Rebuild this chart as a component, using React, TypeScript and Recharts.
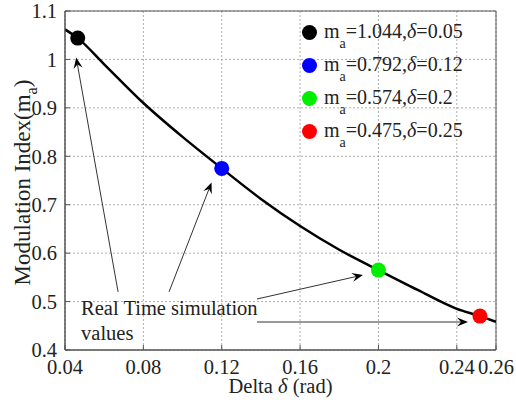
import {
  CartesianGrid,
  ComposedChart,
  Legend,
  Line,
  ReferenceArea,
  ReferenceDot,
  ReferenceLine,
  Scatter,
  XAxis,
  YAxis,
} from "recharts";

const FONT = "'Liberation Serif', 'Times New Roman', serif";

// fitted curve
const curveDelta = [0.04, 0.0465, 0.06, 0.08, 0.1, 0.12, 0.14, 0.16, 0.18, 0.2, 0.22, 0.24, 0.2518, 0.26];
const curveMa = [1.062, 1.044, 0.99, 0.91, 0.84, 0.775, 0.712, 0.656, 0.607, 0.565, 0.524, 0.485, 0.47, 0.458];

// real time simulation points
const pointDelta = [0.0465, 0.12, 0.2, 0.2518];
const pointMa = [1.044, 0.775, 0.565, 0.47];
const pointColors = ["#000000", "#0000ff", "#00ee00", "#ff0000"];

// legend texts
const legendMa = ["1.044", "0.792", "0.574", "0.475"];
const legendDelta = ["0.05", "0.12", "0.2", "0.25"];

const xTicks = [0.04, 0.08, 0.12, 0.16, 0.2, 0.24, 0.26];
const yTicks = [0.4, 0.5, 0.6, 0.7, 0.8, 0.9, 1, 1.1];

// annotation arrows (delta, ma)
const arrowFrom = [
  [0.0671, 0.52],
  [0.0931, 0.52],
  [0.138, 0.5053],
  [0.138, 0.4578],
];
const arrowTo = [
  [0.0457, 1.004],
  [0.1148, 0.746],
  [0.1921, 0.5549],
  [0.2457, 0.4578],
];

const curveData = curveDelta.map((d, i) => ({ delta: d, ma: curveMa[i] }));
const pointData = pointDelta.map((d, i) => ({ delta: d, ma: pointMa[i] }));

function ArrowShape(props: any) {
  const { x1, y1, x2, y2 } = props;
  if ([x1, y1, x2, y2].some((v) => v == null || isNaN(v))) return null;
  const dx = x2 - x1;
  const dy = y2 - y1;
  const len = Math.sqrt(dx * dx + dy * dy) || 1;
  const ux = dx / len;
  const uy = dy / len;
  const px = -uy;
  const py = ux;
  const head = 11;
  const half = 4.5;
  const notch = 7;
  const pts = [
    [x2, y2],
    [x2 - ux * head + px * half, y2 - uy * head + py * half],
    [x2 - ux * notch, y2 - uy * notch],
    [x2 - ux * head - px * half, y2 - uy * head - py * half],
  ]
    .map((p) => p.join(","))
    .join(" ");
  return (
    <g>
      <line x1={x1} y1={y1} x2={x2 - ux * notch} y2={y2 - uy * notch} stroke="#333" strokeWidth={1} />
      <polygon points={pts} fill="#000" />
    </g>
  );
}

function XTick(props: any) {
  const { x, y, payload } = props;
  return (
    <text x={x} y={y} dy="0.71em" textAnchor="middle" fontFamily={FONT} fontSize={20.5} fill="#222">
      {payload.value}
    </text>
  );
}

function YTick(props: any) {
  const { x, y, payload } = props;
  return (
    <text x={x} y={y} dy="0.355em" textAnchor="end" fontFamily={FONT} fontSize={20.5} fill="#222">
      {payload.value}
    </text>
  );
}

function YLabel(props: any) {
  const { viewBox } = props;
  const cx = 22;
  const cy = viewBox.y + viewBox.height / 2 + 2;
  return (
    <text
      x={cx}
      y={cy}
      transform={`rotate(-90 ${cx} ${cy})`}
      textAnchor="middle"
      dominantBaseline="central"
      fontFamily={FONT}
      fontSize={23}
      fill="#222"
    >
      Modulation Index(m
      <tspan fontSize={16} dy={9}>a</tspan>
      <tspan dy={-9}>)</tspan>
    </text>
  );
}

function XLabel(props: any) {
  const { viewBox } = props;
  const cx = viewBox.x + viewBox.width / 2;
  return (
    <text x={cx} y={393} textAnchor="middle" fontFamily={FONT} fontSize={20.5} fill="#222">
      Delta <tspan fontStyle="italic">δ</tspan> (rad)
    </text>
  );
}

function LegendBox() {
  return (
    <div style={{ fontFamily: FONT, fontSize: 20, color: "#222", lineHeight: "30px" }}>
      {legendMa.map((m, i) => (
        <div key={i} style={{ display: "flex", alignItems: "center", whiteSpace: "nowrap" }}>
          <span
            style={{
              display: "inline-block",
              width: 15,
              height: 15,
              borderRadius: "50%",
              background: pointColors[i],
              marginRight: 7,
            }}
          />
          <span>
            m<span style={{ fontSize: 14, position: "relative", top: 10 }}>a</span>={m},
            <i>δ</i>={legendDelta[i]}
          </span>
        </div>
      ))}
    </div>
  );
}

function AnnotationText(props: any) {
  const { cx, cy } = props;
  if (cx == null || cy == null) return null;
  return (
    <text x={cx} y={cy} fontFamily={FONT} fontSize={20.5} fill="#222">
      <tspan x={cx}>Real Time simulation</tspan>
      <tspan x={cx} dy={25}>values</tspan>
    </text>
  );
}

export default function App() {
  return (
    <div
      style={{
        position: "absolute",
        left: 0,
        top: 0,
        width: 516,
        height: 405,
        background: "#fff",
        fontFamily: FONT,
      }}
    >
      <ComposedChart width={516} height={405} margin={{ top: 11, right: 20, left: 10, bottom: 15 }}>
        <CartesianGrid stroke="#9a9a9a" strokeDasharray="2 2" strokeWidth={0.8} />
        <XAxis
          dataKey="delta"
          type="number"
          domain={[0.04, 0.26]}
          ticks={xTicks}
          interval={0}
          allowDataOverflow
          height={40}
          axisLine={{ stroke: "#555" }}
          tickLine={{ stroke: "#555" }}
          tickSize={-5}
          tickMargin={14}
          tick={<XTick />}
          label={<XLabel />}
        />
        <YAxis
          dataKey="ma"
          type="number"
          domain={[0.4, 1.1]}
          ticks={yTicks}
          interval={0}
          allowDataOverflow
          width={55}
          axisLine={{ stroke: "#555" }}
          tickLine={{ stroke: "#555" }}
          tickSize={-5}
          tickMargin={13}
          tick={<YTick />}
          label={<YLabel />}
        />
        <ReferenceArea x1={0.04} x2={0.26} y1={0.4} y2={1.1} fill="none" stroke="#555" strokeWidth={1} />
        <Line
          data={curveData}
          dataKey="ma"
          type="monotone"
          stroke="#000"
          strokeWidth={2.5}
          dot={false}
          activeDot={false}
          legendType="none"
          isAnimationActive={false}
        />
        {pointData.map((p, i) => (
          <Scatter
            key={i}
            name={`ma=${legendMa[i]}`}
            data={[p]}
            dataKey="ma"
            fill={pointColors[i]}
            isAnimationActive={false}
            shape={(s: any) => <circle cx={s.cx} cy={s.cy} r={7.5} fill={pointColors[i]} />}
          />
        ))}
        {arrowFrom.map((f, i) => (
          <ReferenceLine
            key={i}
            segment={[
              { x: f[0], y: f[1] },
              { x: arrowTo[i][0], y: arrowTo[i][1] },
            ]}
            ifOverflow="visible"
            shape={ArrowShape}
          />
        ))}
        <ReferenceDot x={0.0482} y={0.472} r={0} ifOverflow="visible" shape={AnnotationText} />
        <Legend
          layout="horizontal"
          verticalAlign="middle"
          content={() => <LegendBox />}
          wrapperStyle={{ top: 16, left: 302, width: 210 }}
        />
      </ComposedChart>
    </div>
  );
}
